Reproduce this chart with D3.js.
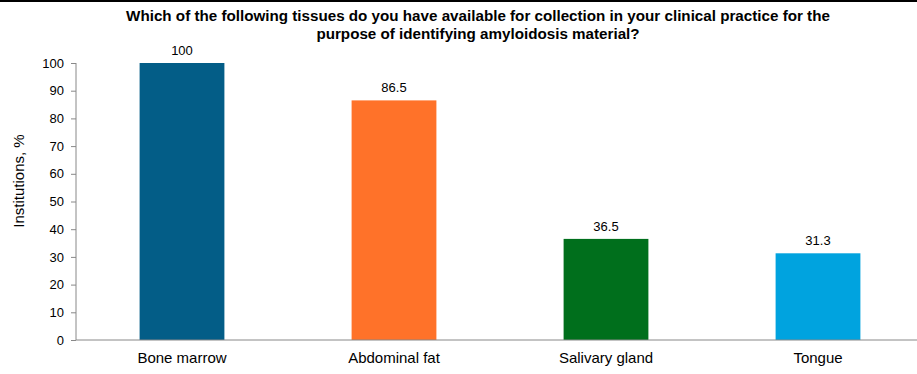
<!DOCTYPE html>
<html>
<head>
<meta charset="utf-8">
<script src="https://cdn.jsdelivr.net/npm/d3@7"></script>
<style>
  body { margin: 0; background: #fff; }
  svg text { font-family: "Liberation Sans", Arial, sans-serif; fill: #000; }
</style>
</head>
<body>
<div id="chart"></div>
<script>
// chart data
var categories = ["Bone marrow", "Abdominal fat", "Salivary gland", "Tongue"];
var values = [100, 86.5, 36.5, 31.3];
var valueLabels = ["100", "86.5", "36.5", "31.3"];
var barColors = ["#035d87", "#ff7229", "#006f1c", "#00a3df"];
var yTicks = [0, 10, 20, 30, 40, 50, 60, 70, 80, 90, 100];
var titleLines = [
  "Which of the following tissues do you have available for collection in your clinical practice for the",
  "purpose of identifying amyloidosis material?"
];

var width = 917, height = 374;
var svg = d3.select("#chart").append("svg").attr("width", width).attr("height", height);

// dark strip along the top edge
svg.append("rect").attr("x", 0).attr("y", 0).attr("width", width).attr("height", 2).attr("fill", "#000");

var x0 = 76, y0 = 340, yTop = 63;

var x = d3.scaleBand()
  .domain(categories)
  .range([x0, 924])
  .paddingInner(0.6)
  .paddingOuter(0.3);

var y = d3.scaleLinear().domain([0, 100]).range([y0, yTop]);

// title
svg.append("g").selectAll("text").data(titleLines).enter().append("text")
  .attr("x", 478)
  .attr("y", function (d, i) { return 21 + i * 18; })
  .attr("text-anchor", "middle")
  .attr("font-size", "15.2px")
  .attr("font-weight", "bold")
  .style("font-family", "'Liberation Sans Narrow', 'Liberation Sans', Arial, sans-serif")
  .text(function (d) { return d; });

// bars
svg.append("g").selectAll("rect").data(values).enter().append("rect")
  .attr("x", function (d, i) { return x(categories[i]); })
  .attr("y", function (d) { return y(d); })
  .attr("width", x.bandwidth())
  .attr("height", function (d) { return y0 - y(d); })
  .attr("fill", function (d, i) { return barColors[i]; });

// value labels
svg.append("g").selectAll("text").data(values).enter().append("text")
  .attr("x", function (d, i) { return x(categories[i]) + x.bandwidth() / 2; })
  .attr("y", function (d) { return y(d) - 8; })
  .attr("text-anchor", "middle")
  .attr("font-size", "13px")
  .text(function (d, i) { return valueLabels[i]; });

// y axis
var yAxis = d3.axisLeft(y).tickValues(yTicks).tickSize(5).tickPadding(7);
var gy = svg.append("g").attr("transform", "translate(" + x0 + ",0)").call(yAxis);
gy.select(".domain").attr("stroke", "#888").attr("d", "M0," + yTop + "V" + y0);
gy.selectAll(".tick line").attr("stroke", "#888");
gy.selectAll(".tick text").attr("font-size", "13px").attr("font-family", "Liberation Sans, Arial, sans-serif").attr("fill", "#000");

// x axis
var xAxis = d3.axisBottom(x).tickSize(0).tickPadding(12);
var gx = svg.append("g").attr("transform", "translate(0," + y0 + ")").call(xAxis);
gx.select(".domain").attr("stroke", "#888").attr("d", "M" + x0 + ",0H" + width);
gx.selectAll(".tick text").attr("font-size", "15px").attr("font-family", "Liberation Sans, Arial, sans-serif").attr("fill", "#000");

// y label
svg.append("text")
  .attr("transform", "translate(24,181) rotate(-90)")
  .attr("text-anchor", "middle")
  .attr("font-size", "15px")
  .text("Institutions, %");
</script>
</body>
</html>
